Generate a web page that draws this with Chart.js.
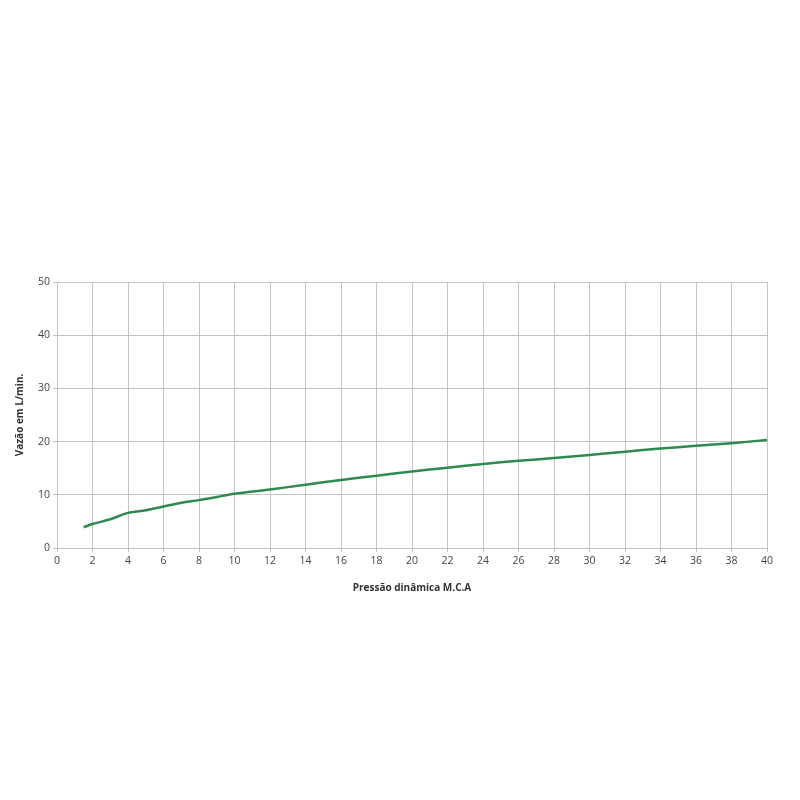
<!DOCTYPE html>
<html>
<head>
<meta charset="utf-8">
<script src="https://cdn.jsdelivr.net/npm/chart.js@4/dist/chart.umd.min.js"></script>
<style>
  html, body { margin: 0; padding: 0; background: #ffffff; }
  #wrap { width: 800px; height: 800px; }
</style>
</head>
<body>
<div id="wrap"><canvas id="chart" width="800" height="800"></canvas></div>
<script>
  const pressao = [1.5, 2, 3, 4, 5, 6, 7, 8, 9, 10, 12, 14, 16, 18, 20, 22, 24, 26, 28, 30, 32, 34, 36, 38, 40];
  const vazao = [3.9, 4.5, 5.4, 6.6, 7.1, 7.8, 8.5, 9.0, 9.6, 10.2, 11.0, 11.9, 12.8, 13.6, 14.4, 15.1, 15.8, 16.4, 16.9, 17.5, 18.1, 18.7, 19.2, 19.7, 20.3];

  const gridColor = "#c4c4c4";
  const tickColor = "#444444";

  new Chart(document.getElementById("chart").getContext("2d"), {
    type: "line",
    data: {
      datasets: [
        {
          label: "Vazão",
          data: pressao.map((p, i) => ({ x: p, y: vazao[i] })),
          borderColor: "#2f8a4f",
          borderWidth: 2.5,
          pointRadius: 0,
          tension: 0.3,
          fill: false
        }
      ]
    },
    options: {
      responsive: false,
      devicePixelRatio: 1,
      animation: false,
      layout: {
        padding: { left: 10, top: 282, right: 33, bottom: 202 }
      },
      plugins: {
        legend: { display: false },
        tooltip: { enabled: false }
      },
      scales: {
        x: {
          type: "linear",
          min: 0,
          max: 40,
          ticks: {
            stepSize: 2,
            color: tickColor,
            padding: 3,
            maxRotation: 0,
            font: { family: "Open Sans", size: 10.5 }
          },
          grid: { color: gridColor, tickLength: 4 },
          border: { color: gridColor },
          title: {
            display: true,
            text: "Pressão dinâmica M.C.A",
            color: "#333333",
            padding: { top: 4, bottom: 4 },
            font: { family: "Open Sans", size: 10, weight: "bold" }
          },
          afterFit(scale) {
            scale.height = 50;
          }
        },
        y: {
          min: 0,
          max: 50,
          ticks: {
            stepSize: 10,
            color: tickColor,
            padding: 3,
            font: { family: "Open Sans", size: 10.5 }
          },
          grid: { color: gridColor, tickLength: 4 },
          border: { color: gridColor },
          title: {
            display: true,
            text: "Vazão em L/min.",
            color: "#333333",
            padding: { top: 4, bottom: 4 },
            font: { family: "Open Sans", size: 10, weight: "bold" }
          },
          afterFit(scale) {
            scale.width = 47;
          }
        }
      }
    }
  });
</script>
</body>
</html>
